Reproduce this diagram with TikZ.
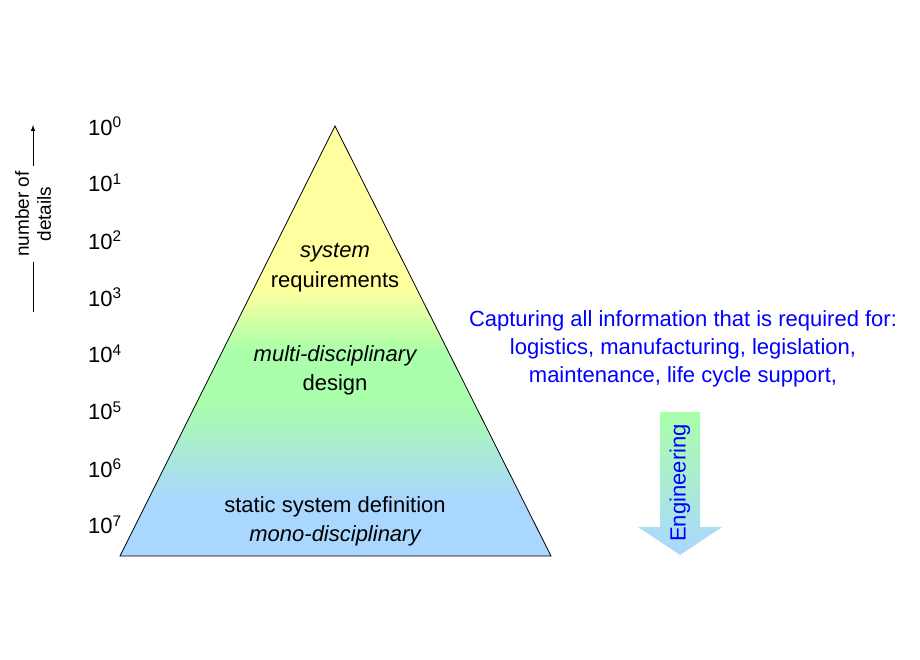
\documentclass[tikz,border=0pt]{standalone}
\usepackage{fontspec}
\setmainfont{Liberation Sans}
\begin{document}
\begin{tikzpicture}[x=1pt,y=-1pt,
  lab/.style={font=\fontsize{22}{26}\selectfont, inner sep=0pt},
  bl/.style={lab, text=blue}]
\useasboundingbox (0,0) rectangle (920,660);
\fill[white] (0,0) rectangle (920,660);
\definecolor{ye}{RGB}{255,255,160}
\definecolor{gr}{RGB}{170,255,170}
\definecolor{lb}{RGB}{170,215,255}
\begin{scope}
\clip (335,126) -- (551,556) -- (120,556) -- cycle;
\fill[ye] (100,120) rectangle (600,290);
\shade[top color=ye, bottom color=gr] (100,289) rectangle (600,351);
\fill[gr] (100,350) rectangle (600,400);
\shade[top color=gr, bottom color=lb] (100,399) rectangle (600,499);
\fill[lb] (100,498) rectangle (600,560);
\end{scope}
\node[coordinate] (apex) at (335,126) {};
\node[coordinate] (br) at (551,556) {};
\node[coordinate] (bll) at (120,556) {};
\draw[black, line width=0.8pt] (apex) -- (br) -- (bll) -- cycle;
\node[lab] (t1) at (335,253) {\itshape system};
\node[lab] (t2) at (335,282) {requirements};
\node[lab] (t3) at (335,356) {\itshape multi-disciplinary};
\node[lab] (t4) at (335,385) {design};
\node[lab] (t5) at (335,507) {static system definition};
\node[lab] (t6) at (335,536) {\itshape mono-disciplinary};
\foreach \i/\y in {0/126,1/183,2/240,3/297,4/354,5/411,6/468,7/525}
  \node[lab] (e\i) at (105,\y) {10\textsuperscript{\i}};
\node[lab, rotate=90, align=center, font=\fontsize{19}{22}\selectfont] (nd) at (33,214) {number of\\details};
\node[coordinate] (a1) at (33,312) {};
\node[coordinate] (a2) at (33,262) {};
\node[coordinate] (a3) at (33,166) {};
\node[coordinate] (a4) at (33,125) {};
\draw[line width=1pt] (a1) -- (a2);
\draw[line width=1pt, -latex] (a3) -- (a4);
\node[bl] (c1) at (683,321) {Capturing all information that is required for:};
\node[bl] (c2) at (683,349) {logistics, manufacturing, legislation,};
\node[bl] (c3) at (683,377) {maintenance, life cycle support,};
\shade[top color=gr, bottom color=lb] (660,412) -- (700,412) -- (700,527) -- (722,527) -- (680,555) -- (638,527) -- (660,527) -- cycle;
\node[bl, rotate=90] (eng) at (680,483) {Engineering};
\end{tikzpicture}
\end{document}
